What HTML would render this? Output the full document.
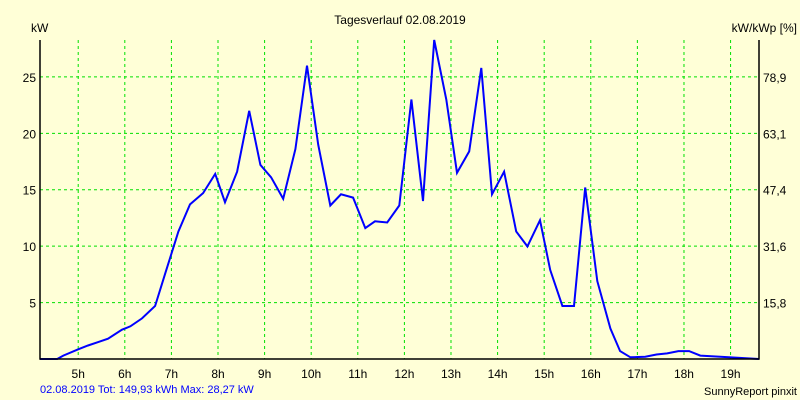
<!DOCTYPE html>
<html><head><meta charset="utf-8"><style>
body{margin:0;background:#ffffd7;}
svg{display:block;font-family:"Liberation Sans",sans-serif;}
</style></head><body>
<svg id="chart" width="800" height="400" viewBox="0 0 800 400">
<rect x="0" y="0" width="800" height="400" fill="#ffffd7"/>
<g id="grid"></g>
<g id="ticks"></g>
<path id="line" fill="none" stroke="#0000ff" stroke-width="2"/>
<polyline points="40,40 40,359 759,359 759,40" fill="none" stroke="#000" stroke-width="1.5"/>
<text x="400" y="24" font-size="12" text-anchor="middle">Tagesverlauf 02.08.2019</text>
<text x="31" y="32" font-size="12">kW</text>
<text x="797" y="32" font-size="12" text-anchor="end">kW/kWp [%]</text>
<text x="40" y="393" font-size="11" fill="#0000ff">02.08.2019 Tot: 149,93 kWh Max: 28,27 kW</text>
<text x="797" y="395" font-size="11" text-anchor="end">SunnyReport pinxit</text>
</svg>
<script>
const hourTicks=[5,6,7,8,9,10,11,12,13,14,15,16,17,18,19];
const kwTicks=[5,10,15,20,25];
const pctLabels=["15,8","31,6","47,4","63,1","78,9"];
const times=[4.18,4.55,4.68,5.00,5.21,5.43,5.64,5.94,6.12,6.37,6.65,6.87,7.15,7.40,7.68,7.94,8.15,8.41,8.67,8.91,9.14,9.40,9.66,9.91,10.15,10.41,10.64,10.90,11.16,11.37,11.63,11.89,12.15,12.40,12.64,12.90,13.13,13.39,13.65,13.88,14.14,14.40,14.64,14.91,15.13,15.39,15.64,15.88,16.14,16.42,16.63,16.85,17.17,17.41,17.64,17.88,18.11,18.35,18.78,19.61];
const power=[0,0,0.3,0.86,1.2,1.5,1.8,2.6,2.9,3.6,4.7,7.6,11.3,13.7,14.7,16.4,13.9,16.6,22.0,17.2,16.1,14.2,18.6,26.0,19.0,13.6,14.6,14.3,11.6,12.2,12.1,13.6,23.0,14.0,28.27,23.0,16.5,18.4,25.8,14.6,16.6,11.3,9.98,12.3,7.9,4.7,4.7,15.2,6.9,2.7,0.7,0.15,0.2,0.4,0.5,0.7,0.7,0.3,0.2,0];
const X0=40,X1=759,Y0=359,Y1=40,T0=4.18,T1=19.61,VMAX=28.27;
function xs(t){return X0+(t-T0)/(T1-T0)*(X1-X0);}
function ys(v){return Y0-v/VMAX*(Y0-Y1);}
const NS="http://www.w3.org/2000/svg";
const grid=document.getElementById('grid'),ticks=document.getElementById('ticks');
hourTicks.forEach(h=>{
 const x=xs(h);
 const l=document.createElementNS(NS,'line');
 
 
 l.setAttribute('x1',x);l.setAttribute('x2',x);l.setAttribute('y1',Y1);l.setAttribute('y2',Y0);
 l.setAttribute('stroke','#00e000');l.setAttribute('stroke-dasharray','3,3');
 grid.appendChild(l);
 const t=document.createElementNS(NS,'text');
 
 
 t.setAttribute('x',x);t.setAttribute('y',378);t.setAttribute('font-size','12');t.setAttribute('text-anchor','middle');
 t.textContent=h+'h';ticks.appendChild(t);
});
kwTicks.forEach((v,i)=>{
 const y=ys(v);
 const l=document.createElementNS(NS,'line');
 
 
 l.setAttribute('x1',X0);l.setAttribute('x2',X1);l.setAttribute('y1',y);l.setAttribute('y2',y);
 l.setAttribute('stroke','#00e000');l.setAttribute('stroke-dasharray','3,3');
 grid.appendChild(l);
 const t=document.createElementNS(NS,'text');
 
 
 t.setAttribute('x',36);t.setAttribute('y',y+5);t.setAttribute('font-size','12');t.setAttribute('text-anchor','end');
 t.textContent=v;ticks.appendChild(t);
 const r=document.createElementNS(NS,'text');
 
 
 r.setAttribute('x',763);r.setAttribute('y',y+5);r.setAttribute('font-size','12');
 r.textContent=pctLabels[i];ticks.appendChild(r);
});
document.getElementById('line').setAttribute('d',times.map((t,i)=>(i?'L':'M')+xs(t).toFixed(1)+','+ys(power[i]).toFixed(1)).join(''));
</script>
</body></html>
